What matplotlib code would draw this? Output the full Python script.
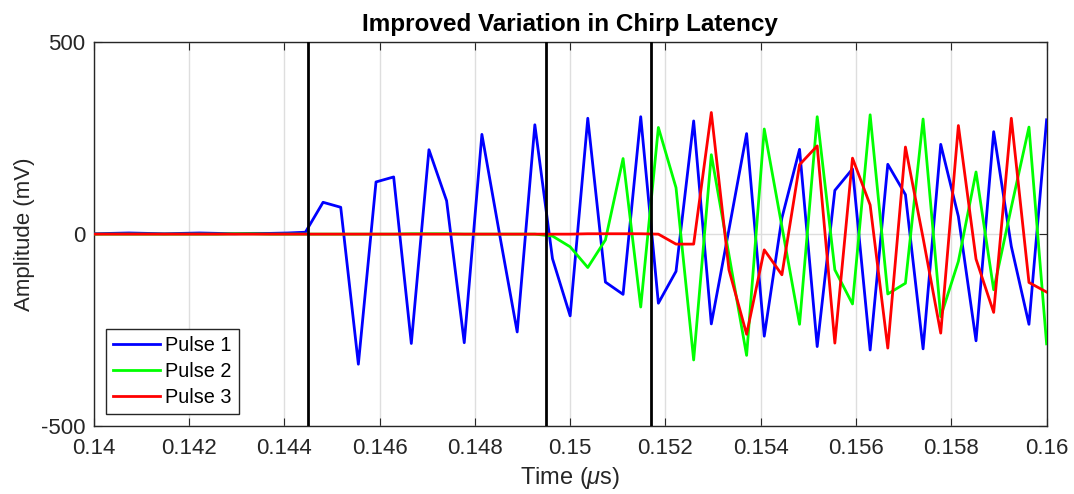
import numpy as np
import matplotlib
matplotlib.use("Agg")
import matplotlib.pyplot as plt

plt.rcParams['font.family'] = ['Liberation Sans', 'DejaVu Sans']
plt.rcParams['mathtext.fontset'] = 'custom'
plt.rcParams['mathtext.it'] = 'Liberation Sans:italic'
plt.rcParams['axes.unicode_minus'] = False

# samples taken at k / 2700, k = 378 .. 432
sample_idx = np.arange(378, 433)
time = sample_idx / 2700.0

pulse1 = [1, 2, 3, 2, 1, 2, 3, 2, 1, 2, 2, 3,
          5, 83, 70, -339, 136, 149, -285, 220, 87, -283, 260, 0, -255, 285,
          -64, -213, 302, -125, -157, 306, -180, -97, 295, -234, 12, 262, -266,
          42, 221, -293, 114, 170, -302, 182, 103, -299, 234, 46, -278, 267,
          -32, -235, 298]

pulse2 = [0, 0, 0, 0, 0, 0, 0, 0, 1, 1, 0, 0,
          0, 0, 0, 0, 0, 0, 1, 1, 1, 0, 0, 0, 0, 0,
          -5, -33, -87, -15, 197, -190, 278, 121, -328, 207, -54, -316, 274,
          20, -235, 306, -93, -182, 311, -156, -128, 300, -215, -71, 162, -145,
          70, 279, -286]

pulse3 = [0, 0, 0, 0, 0, 0, 0, 0, 0, 0, 0, 0,
          0, 0, 0, 0, 0, 0, 0, 0, 0, 0, 0, 0, 0, 0,
          0, 0, 1, 1, 1, 1, 0, -26, -26, 317, -93, -261, -41,
          -106, 181, 230, -284, 198, 76, -297, 227, -10, -258, 283, -65, -204,
          302, -126, -151]

markers = [0.1445, 0.1495, 0.1517]

fig = plt.figure(figsize=(10.74, 4.94), dpi=100)
ax = fig.add_axes([0.0872, 0.1377, 0.8873, 0.7767])

ax.plot(time, pulse1, color=(0, 0, 1), lw=2, label='Pulse 1', zorder=3)
ax.plot(time, pulse2, color=(0, 1, 0), lw=2, label='Pulse 2', zorder=3)
ax.plot(time, pulse3, color=(1, 0, 0), lw=2, label='Pulse 3', zorder=3)
for m in markers:
    ax.axvline(m, color='black', lw=2, zorder=4)

ax.set_xlim(0.14, 0.16)
ax.set_ylim(-500, 500)
ax.set_xticks(np.arange(0.14, 0.1601, 0.002))
ax.set_xticklabels(['0.14', '0.142', '0.144', '0.146', '0.148', '0.15',
                    '0.152', '0.154', '0.156', '0.158', '0.16'])
ax.set_yticks([-500, 0, 500])
ax.grid(True, color='#dedede', lw=1, zorder=0)

ax.tick_params(direction='in', top=True, right=True, length=6,
               labelsize=16, colors='#262626')
ax.tick_params(axis='x', pad=9)
ax.tick_params(axis='y', pad=6)
for s in ax.spines.values():
    s.set_color('#262626')
    s.set_linewidth(1)

ax.set_title('Improved Variation in Chirp Latency', fontsize=17.5,
             fontweight='bold', pad=8)
ax.set_xlabel(r'Time ($\mu$s)', fontsize=17, color='#262626', labelpad=4)
ax.set_ylabel('Amplitude (mV)', fontsize=16, color='#262626', labelpad=4)

leg = ax.legend(loc='lower left', fontsize=14.3, fancybox=False,
                edgecolor='#262626', framealpha=1, handlelength=2.4,
                borderaxespad=0.6, handletextpad=0.25, labelspacing=0.35,
                borderpad=0.35)
leg.get_frame().set_linewidth(1)

fig.savefig('out.png', dpi=100)
